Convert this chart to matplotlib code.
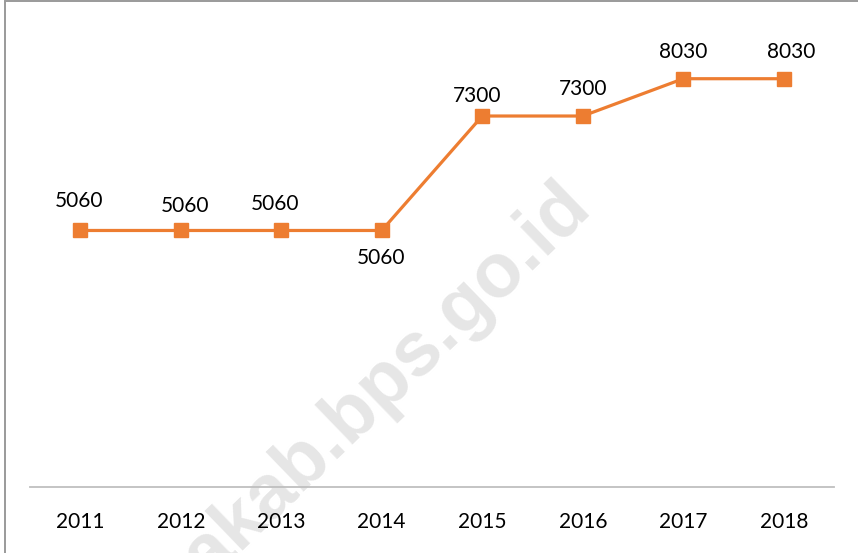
import matplotlib
matplotlib.use('Agg')
import matplotlib.pyplot as plt
from matplotlib.patches import Rectangle

# data
years = ['2011', '2012', '2013', '2014', '2015', '2016', '2017', '2018']
values = [5060, 5060, 5060, 5060, 7300, 7300, 8030, 8030]

# label offsets in pixels (dx, dy) - hand placed like the original
label_offsets = [(-1, 29), (4, 24), (-6, 26), (-1, -28),
                 (-5, 20), (0, 27), (0, 27), (7, 27)]

ORANGE = '#ED7D31'
plt.rcParams['font.family'] = ['Lato', 'DejaVu Sans']

fig = plt.figure(figsize=(8.58, 5.53), dpi=100)
ax = fig.add_axes([30 / 858, 1 - 487 / 553, 804 / 858, 460 / 553])

# watermark behind everything
fig.text(594 / 858, 1 - 210 / 553, 'akakab.bps.go.id', rotation=44,
         rotation_mode='anchor', ha='right', va='baseline',
         fontsize=55, fontweight='bold', color='#E6E6E6',
         family='Liberation Sans', zorder=-1)

x = list(range(len(years)))
ax.plot(x, values, color=ORANGE, linewidth=2.3, marker='s',
        markersize=9.5, zorder=3)

for i, v in enumerate(values):
    dx, dy = label_offsets[i]
    ax.annotate(f'{v}', (i, v), xytext=(dx, dy), textcoords='offset pixels',
                ha='center', va='center', fontsize=15, color='black')

ax.set_xlim(-0.5, len(years) - 0.5)
ax.set_ylim(40, 9042)
ax.set_xticks(x)
ax.set_xticklabels(years, fontsize=15)
ax.tick_params(axis='x', length=0, pad=18)
ax.set_yticks([])
for s in ['top', 'right', 'left']:
    ax.spines[s].set_visible(False)
ax.spines['bottom'].set_color('#BFBFBF')
ax.spines['bottom'].set_linewidth(1.3)
ax.patch.set_alpha(0)

# outer frame (left and top edges visible)
fig.add_artist(Rectangle((4.5 / 858, -0.1), 1.2, 1.1 - 1.5 / 553,
                         transform=fig.transFigure, fill=False,
                         edgecolor='#9A9A9A', linewidth=1.4, clip_on=False))

fig.savefig('out.png', dpi=100)
